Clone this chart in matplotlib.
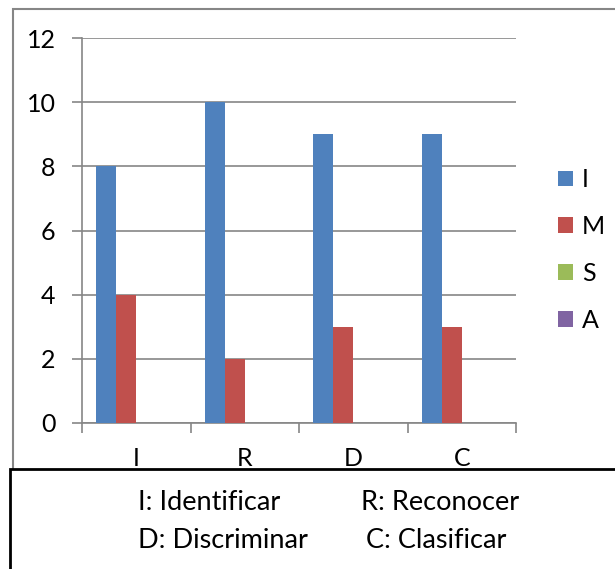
import matplotlib
matplotlib.use("Agg")
import matplotlib.pyplot as plt
from matplotlib.patches import Rectangle, Patch
import numpy as np

plt.rcParams['font.family'] = ['Lato', 'DejaVu Sans']

categories = ["I", "R", "D", "C"]
series_names = ["I", "M", "S", "A"]
values_I = [8, 10, 9, 9]
values_M = [4, 2, 3, 3]
values_S = [0, 0, 0, 0]
values_A = [0, 0, 0, 0]
series_values = [values_I, values_M, values_S, values_A]
colors = ["#4F81BD", "#C0504D", "#9BBB59", "#8064A2"]
yticks = [0, 2, 4, 6, 8, 10, 12]
notes = [["I: Identificar", "R: Reconocer"], ["D: Discriminar", "C: Clasificar"]]

W, H = 615, 569
fig = plt.figure(figsize=(W / 100, H / 100), dpi=100)

def fx(px):
    return px / W

def fy(py):
    return 1 - py / H

# outer chart border
fig.patches.append(Rectangle((fx(13), fy(472)), fx(700) - fx(13), fy(9) - fy(472),
                             transform=fig.transFigure, fill=False,
                             edgecolor="#868686", linewidth=1.5, zorder=0))

ax = fig.add_axes([fx(82), fy(423), fx(516) - fx(82), fy(38) - fy(423)])
grid_c = "#868686"
x = np.arange(len(categories))
bw = 20 / 108.5
n = len(series_values)
for k, (vals, col, name) in enumerate(zip(series_values, colors, series_names)):
    ax.bar(x + (k - (n - 1) / 2) * bw, vals, width=bw, color=col, label=name, zorder=3)

ax.set_xlim(-0.5, len(categories) - 0.5)
ax.set_ylim(0, 12)
ax.set_yticks(yticks)
ax.set_yticklabels([str(v) for v in yticks])
ax.yaxis.grid(True, color=grid_c, linewidth=1.2, zorder=0)
ax.set_axisbelow(True)
ax.set_xticks(x)
ax.set_xticklabels(categories)
ax.set_xticks(np.arange(-0.5, len(categories)), minor=True)
ax.tick_params(axis='x', which='major', length=0, pad=17, labelsize=18)
ax.tick_params(axis='x', which='minor', length=7, color=grid_c, width=1.2)
ax.tick_params(axis='y', length=7, color=grid_c, width=1.2, pad=12, labelsize=18)
for s in ["top", "right"]:
    ax.spines[s].set_visible(False)
for s in ["left", "bottom"]:
    ax.spines[s].set_color(grid_c)
    ax.spines[s].set_linewidth(1.2)

handles = [Patch(facecolor=c, edgecolor='none') for c in colors]
fig.legend(handles, series_names, loc="center left",
           bbox_to_anchor=(fx(558), fy(250)), frameon=False, fontsize=18,
           handlelength=0.6, handleheight=0.6, handletextpad=0.35,
           labelspacing=0.95, borderpad=0, borderaxespad=0)

# bottom note box
fig.patches.append(Rectangle((fx(10), fy(700)), fx(700) - fx(10), fy(469) - fy(700),
                             transform=fig.transFigure, facecolor="white",
                             edgecolor="black", linewidth=2, zorder=5))
xs = [fx(138), fx(361)]
ys = [fy(510), fy(548)]
xs2 = [fx(138), fx(366)]
for r, row in enumerate(notes):
    for c, txt in enumerate(row):
        xpos = xs[c] if r == 0 else xs2[c]
        fig.text(xpos, ys[r], txt, fontsize=19.5, ha="left", va="baseline", zorder=6)

fig.savefig("out.png", dpi=100)
